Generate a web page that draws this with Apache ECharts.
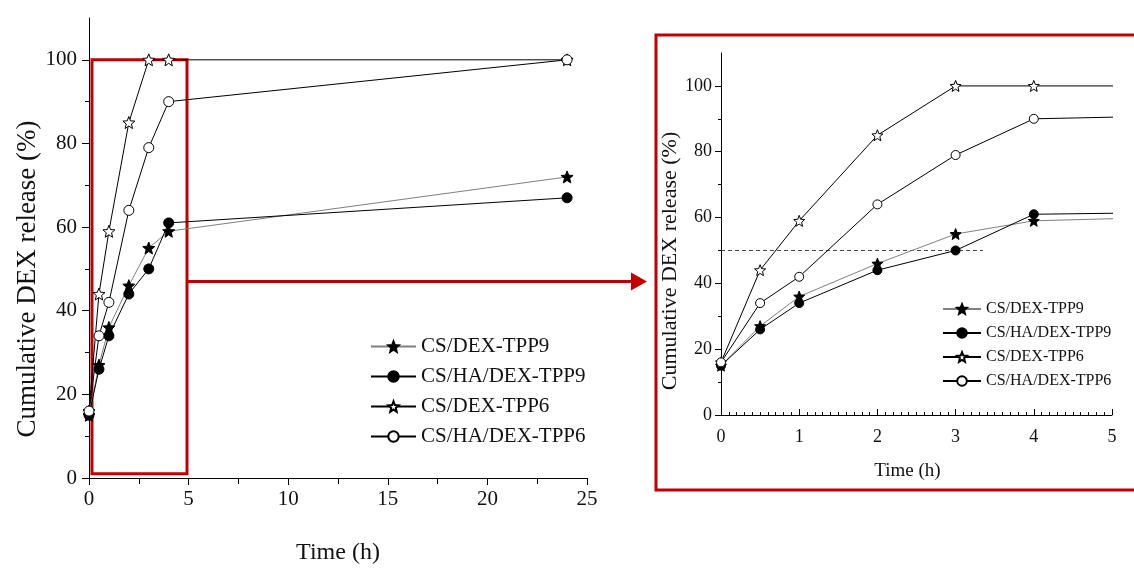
<!DOCTYPE html>
<html>
<head>
<meta charset="utf-8">
<script src="https://cdn.jsdelivr.net/npm/echarts@6.0.0/dist/echarts.min.js"></script>
<style>
    html,body{margin:0;padding:0;background:#fff;}
    #main{width:1134px;height:570px;}
</style>
</head>
<body>
<div id="main"></div>
<script>
    // release data, time in hours
    var times = [0, 0.5, 1, 2, 3, 4, 24];
    var names = ['CS/DEX-TPP9', 'CS/HA/DEX-TPP9', 'CS/DEX-TPP6', 'CS/HA/DEX-TPP6'];
    var cs_dex_tpp9 = [15, 27, 36, 46, 55, 59, 72];
    var cs_ha_dex_tpp9 = [15, 26, 34, 44, 50, 61, 67];
    var cs_dex_tpp6 = [16, 44, 59, 85, 100, 100, 100];
    var cs_ha_dex_tpp6 = [16, 34, 42, 64, 79, 90, 100];
    var y_major = [0, 20, 40, 60, 80, 100];
    var y_minor = [10, 30, 50, 70, 90];
    var half_line = [[0, 50], [3.35, 50]];   // dashed 50% guide in inset
    var zoom_box = [[0.15, 1], [4.92, 100]];  // red frame on main plot

    var font = 'Liberation Serif';
    var red = '#c00000';
    var star = 'path://M50,0 L62.9,32.2 L97.6,34.5 L70.9,56.8 L79.4,90.5 L50,72 L20.6,90.5 L29.1,56.8 L2.4,34.5 L37.1,32.2 Z';

    var styles = [
        {symbol: star, fill: '#000', line: '#808080', size: 12},
        {symbol: 'circle', fill: '#000', line: '#000', size: 10},
        {symbol: star, fill: '#fff', line: '#000', size: 12},
        {symbol: 'circle', fill: '#fff', line: '#000', size: 10}
    ];
    var values = [cs_dex_tpp9, cs_ha_dex_tpp9, cs_dex_tpp6, cs_ha_dex_tpp6];

    function pairs(xs, ys){
        var out = [];
        for(var i = 0; i < xs.length; i++){
            out.push([xs[i], ys[i]]);
        }
        return out;
    }

    function make_series(k, grid){
        var s = {
            name: names[k],
            type: 'line',
            xAxisIndex: grid,
            yAxisIndex: grid * 2,
            data: pairs(times, values[k]),
            symbol: styles[k].symbol,
            symbolSize: grid == 0 ? styles[k].size : styles[k].size - 1,
            showAllSymbol: true,
            clip: true,
            lineStyle: {color: styles[k].line, width: 1},
            itemStyle: {color: styles[k].fill, borderColor: '#000', borderWidth: 1},
            emphasis: {disabled: true},
            z: 3
        };
        return s;
    }

    function value_axis(grid, min, max, interval, o){
        var a = {
            type: 'value',
            gridIndex: grid,
            min: min,
            max: max,
            interval: interval,
            splitLine: {show: false},
            axisLine: {show: true, onZero: false, lineStyle: {color: '#000', width: 1}},
            axisTick: {show: true, lineStyle: {color: '#000'}},
            axisLabel: {color: '#111', fontFamily: font},
            nameLocation: 'middle',
            nameTextStyle: {color: '#111', fontFamily: font}
        };
        for(var key in o){
            a[key] = o[key];
        }
        return a;
    }

    var series = [];
    for(var i = 0; i < 4; i++){
        series.push(make_series(i, 0));
    }
    for(var j = 0; j < 4; j++){
        series.push(make_series(j, 1));
    }
    // red frame marking the 0-5 h region
    series[0].markArea = {
        silent: true,
        label: {show: false},
        itemStyle: {color: 'rgba(0,0,0,0)', borderColor: red, borderWidth: 3},
        data: [[{coord: zoom_box[0]}, {coord: zoom_box[1]}]]
    };
    series.push({
        name: 'half',
        type: 'line',
        xAxisIndex: 1,
        yAxisIndex: 2,
        data: half_line,
        symbol: 'none',
        silent: true,
        lineStyle: {color: '#444', width: 1, type: [4, 3]},
        z: 2
    });

    var option = {
        animation: false,
        backgroundColor: '#fff',
        grid: [
            {left: 89, right: 547, top: 18, bottom: 90},
            {left: 721, right: 22, top: 53, bottom: 155}
        ],
        xAxis: [
            value_axis(0, 0, 25, 5, {
                name: 'Time (h)', nameGap: 63,
                nameTextStyle: {color: '#111', fontFamily: font, fontSize: 24},
                axisTick: {show: true, length: 7, lineStyle: {color: '#000'}},
                minorTick: {show: true, splitNumber: 2, length: 6, lineStyle: {color: '#000'}},
                axisLabel: {color: '#111', fontFamily: font, fontSize: 21, margin: 11}
            }),
            value_axis(1, 0, 5, 1, {
                name: 'Time (h)', nameGap: 47,
                nameTextStyle: {color: '#111', fontFamily: font, fontSize: 19, padding: [0, 18, 0, 0]},
                axisTick: {show: true, inside: true, length: 6, lineStyle: {color: '#000'}},
                minorTick: {show: true, splitNumber: 10, length: 3, lineStyle: {color: '#000'}},
                axisLabel: {color: '#111', fontFamily: font, fontSize: 18, margin: 13}
            })
        ],
        yAxis: [
            value_axis(0, 0, 110, 10, {
                name: 'Cumulative DEX release (%)', nameGap: 46,
                nameTextStyle: {color: '#111', fontFamily: font, fontSize: 27, padding: [0, 62, 0, 0]},
                axisTick: {show: true, length: 7, customValues: y_major, lineStyle: {color: '#000'}},
                axisLabel: {color: '#111', fontFamily: font, fontSize: 21, margin: 12, customValues: y_major}
            }),
            value_axis(0, 0, 110, 10, {
                position: 'left',
                axisLine: {show: false},
                axisTick: {show: true, length: 4, customValues: y_minor, lineStyle: {color: '#000'}},
                axisLabel: {show: false}
            }),
            value_axis(1, 0, 110, 10, {
                name: 'Cumulative DEX release (%)', nameGap: 24,
                nameTextStyle: {color: '#111', fontFamily: font, fontSize: 22, padding: [0, 54, 0, 0]},
                axisTick: {show: true, length: 6, customValues: y_major, lineStyle: {color: '#000'}},
                axisLabel: {color: '#111', fontFamily: font, fontSize: 18, margin: 9, customValues: y_major}
            }),
            value_axis(1, 0, 110, 10, {
                position: 'left',
                axisLine: {show: false},
                axisTick: {show: true, length: 3, customValues: y_minor, lineStyle: {color: '#000'}},
                axisLabel: {show: false}
            })
        ],
        legend: [
            {
                orient: 'vertical', left: 365, top: 331,
                itemWidth: 45, itemHeight: 13, itemGap: 9,
                selectedMode: false,
                textStyle: {color: '#111', fontFamily: font, fontSize: 21},
                data: names
            },
            {
                orient: 'vertical', left: 937, top: 296,
                itemWidth: 38, itemHeight: 12, itemGap: 8,
                selectedMode: false,
                textStyle: {color: '#111', fontFamily: font, fontSize: 16},
                data: names
            }
        ],
        series: series
    };

    var chart = echarts.init(document.getElementById('main'), null, {renderer: 'canvas'});
    chart.setOption(option);

    // frame round the inset and arrow from the zoom box
    var start = chart.convertToPixel({gridIndex: 0}, [zoom_box[1][0], 47]);
    var box_left = 656;
    var tip = box_left - 9;
    chart.setOption({
        graphic: [
            {
                type: 'rect', silent: true, z: 10,
                shape: {x: box_left, y: 35, width: 520, height: 455},
                style: {fill: 'none', stroke: red, lineWidth: 3}
            },
            {
                type: 'line', silent: true, z: 10,
                shape: {x1: start[0], y1: start[1], x2: tip - 14, y2: start[1]},
                style: {stroke: red, lineWidth: 3}
            },
            {
                type: 'polygon', silent: true, z: 10,
                shape: {points: [[tip - 16, start[1] - 9], [tip, start[1]], [tip - 16, start[1] + 9]]},
                style: {fill: red}
            }
        ]
    });
</script>
</body>
</html>
